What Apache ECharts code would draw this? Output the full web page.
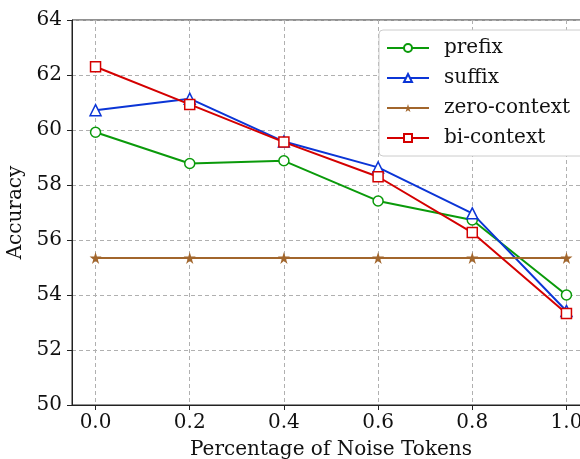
<!DOCTYPE html>
<html>
<head>
<meta charset="utf-8">
<script src="https://cdn.jsdelivr.net/npm/echarts@6/dist/echarts.min.js"></script>
<style>
  html, body { margin: 0; padding: 0; background: #fff; }
  #chart { width: 580px; height: 459px; }
</style>
</head>
<body>
<div id="chart"></div>
<script>
const noiseLevels = [0.0, 0.2, 0.4, 0.6, 0.8, 1.0];
const xTicks = [0.0, 0.2, 0.4, 0.6, 0.8, 1.0];

const prefixAcc = [59.92, 58.78, 58.88, 57.42, 56.73, 54.0];
const suffixAcc = [60.72, 61.14, 59.58, 58.64, 56.97, 53.42];
const zeroContextAcc = [55.35, 55.35, 55.35, 55.35, 55.35, 55.35];
const biContextAcc = [62.3, 60.93, 59.56, 58.3, 56.27, 53.33];

const font = "DejaVu Serif";
const star = "path://M50,0 L61,35 L98,35 L68,57 L79,91 L50,70 L21,91 L32,57 L2,35 L39,35 Z";

const seriesDefs = [
  { name: "prefix", data: prefixAcc, color: "#0a9a0a", symbol: "circle", size: 10, hollow: true },
  { name: "suffix", data: suffixAcc, color: "#0b35d6", symbol: "triangle", size: 11, hollow: true },
  { name: "zero-context", data: zeroContextAcc, color: "#a2662c", symbol: star, size: 12, hollow: false },
  { name: "bi-context", data: biContextAcc, color: "#d40000", symbol: "rect", size: 10, hollow: true },
];

const chart = echarts.init(document.getElementById("chart"));

const gridLine = { show: true, lineStyle: { color: "#b0b0b0", type: [4, 3], width: 1 } };

chart.setOption({
  animation: false,
  grid: {
    left: 72,
    top: 20,
    width: 518,
    height: 385,
    outerBoundsMode: "none",
    containLabel: false,
    show: true,
    borderColor: "#222",
    borderWidth: 1,
    backgroundColor: "transparent",
  },
  legend: {
    left: 379,
    top: 30,
    orient: "vertical",
    padding: [8, 40, 8, 7],
    itemGap: 10,
    itemWidth: 42,
    itemHeight: 10,
    backgroundColor: "#fff",
    borderColor: "#cccccc",
    borderWidth: 1,
    borderRadius: 4,
    textStyle: { fontFamily: font, fontSize: 20, color: "#111", padding: [0, 0, 0, 10] },
    data: seriesDefs.map((s) => s.name),
  },
  xAxis: {
    type: "value",
    min: -0.05,
    max: 1.05,
    name: "Percentage of Noise Tokens",
    nameLocation: "middle",
    nameGap: 35,
    nameTextStyle: { fontFamily: font, fontSize: 20, color: "#111" },
    axisLine: { show: true, onZero: false, lineStyle: { color: "#222", width: 1 } },
    axisTick: { show: true, length: 5, inside: false, customValues: xTicks, lineStyle: { color: "#222" } },
    axisLabel: {
      customValues: xTicks,
      fontFamily: font,
      fontSize: 20,
      color: "#111",
      margin: 8,
      formatter: (v) => v.toFixed(1),
    },
    splitLine: Object.assign({ customValues: xTicks }, gridLine),
  },
  yAxis: {
    type: "value",
    min: 50,
    max: 64,
    interval: 2,
    name: "Accuracy",
    nameLocation: "middle",
    nameGap: 41,
    nameTextStyle: { fontFamily: font, fontSize: 20, color: "#111" },
    axisLine: { show: true, onZero: false, lineStyle: { color: "#222", width: 1 } },
    axisTick: { show: true, length: 5, inside: false, lineStyle: { color: "#222" } },
    axisLabel: { fontFamily: font, fontSize: 20, color: "#111", margin: 10 },
    splitLine: gridLine,
  },
  series: seriesDefs.map((s) => ({
    name: s.name,
    type: "line",
    data: noiseLevels.map((x, i) => [x, s.data[i]]),
    symbol: s.symbol,
    symbolSize: s.size,
    showSymbol: true,
    lineStyle: { color: s.color, width: 2 },
    itemStyle: {
      color: s.hollow ? "#fff" : s.color,
      borderColor: s.color,
      borderWidth: s.hollow ? 1.5 : 0,
    },
  })),
});
</script>
</body>
</html>
